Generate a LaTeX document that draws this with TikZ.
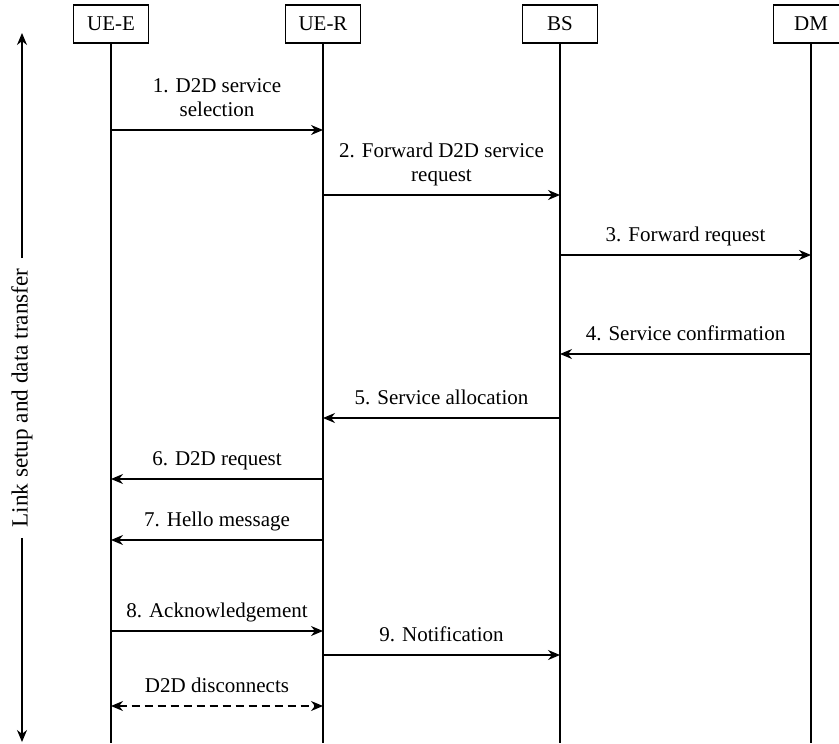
\documentclass[tikz,border=0pt]{standalone}
\usepackage{fontspec}
\setmainfont{Liberation Serif}
\usetikzlibrary{arrows.meta}

\begin{document}
\begin{tikzpicture}[x=0.5pt,y=-0.5pt,font=\fontsize{10.5}{12}\selectfont,
    actor/.style={draw,line width=0.6pt,minimum width=37.5pt,minimum height=19pt,inner sep=0pt},
    life/.style={line width=0.6pt},
    msg/.style={line width=0.6pt,-{Stealth[length=6pt,width=5pt]}},
    lbl/.style={above,align=center,inner sep=3pt,text depth=2.5pt,yshift=1pt}]
\useasboundingbox (0,0) rectangle (839,743);

% participants
\node[actor](uee) at (111,24) {UE-E};
\node[actor](uer) at (323,24) {UE-R};
\node[actor](bs)  at (560,24) {BS};
\node[actor](dm)  at (811,24) {DM};
\foreach \p in {uee,uer,bs,dm}
    \draw[life] (\p.south) -- (\p.south |- 0,743);

% side arrow
\node[rotate=90,inner sep=5pt,font=\fontsize{11.6}{13}\selectfont](phase) at (22,398) {Link setup and data transfer};
\draw[msg] (phase.east) -- (phase.east |- 0,33);
\draw[msg] (phase.west) -- (phase.west |- 0,742);

% messages
\draw[msg] (uee |- 0,130) -- node[lbl]{1. D2D service\\selection} (uer |- 0,130);
\draw[msg] (uer |- 0,195) -- node[lbl]{2. Forward D2D service\\request} (bs |- 0,195);
\draw[msg] (bs |- 0,255) -- node[lbl]{3. Forward request} (dm |- 0,255);
\draw[msg] (dm |- 0,354) -- node[lbl]{4. Service confirmation} (bs |- 0,354);
\draw[msg] (bs |- 0,418) -- node[lbl]{5. Service allocation} (uer |- 0,418);
\draw[msg] (uer |- 0,479) -- node[lbl]{6. D2D request} (uee |- 0,479);
\draw[msg] (uer |- 0,540) -- node[lbl]{7. Hello message} (uee |- 0,540);
\draw[msg] (uee |- 0,631) -- node[lbl]{8. Acknowledgement} (uer |- 0,631);
\draw[msg] (uer |- 0,655) -- node[lbl]{9. Notification} (bs |- 0,655);
\draw[msg,{Stealth[length=6pt,width=5pt]}-{Stealth[length=6pt,width=5pt]},dash pattern=on 4pt off 2.5pt]
    (uee |- 0,706) -- node[lbl]{D2D disconnects} (uer |- 0,706);
\end{tikzpicture}
\end{document}
